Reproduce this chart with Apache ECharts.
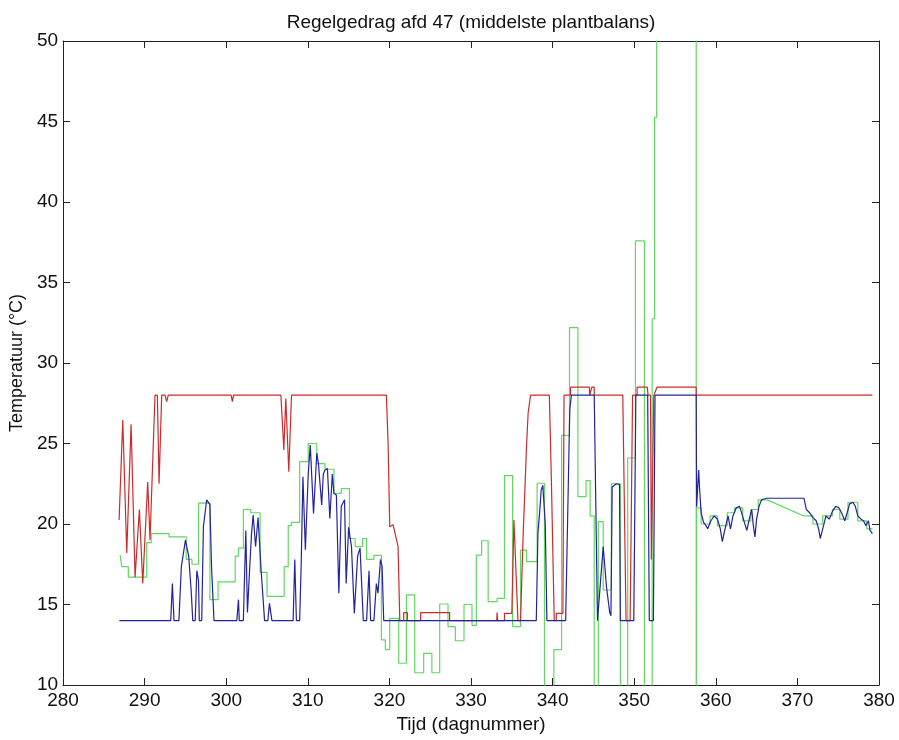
<!DOCTYPE html>
<html>
<head>
<meta charset="utf-8">
<script src="https://cdn.jsdelivr.net/npm/echarts@6/dist/echarts.min.js"></script>
<style>
  html, body { margin: 0; padding: 0; background: #fff; }
  #chart { width: 899px; height: 740px; }
</style>
</head>
<body>
<div id="chart"></div>
<script>
  // axis ticks
  var xTicks = [280, 290, 300, 310, 320, 330, 340, 350, 360, 370, 380]
  var yTicks = [10, 15, 20, 25, 30, 35, 40, 45, 50]

  // red line (dagnummer, temperatuur)
  var redLine = [
    [286.87, 20.25], [287.32, 26.46], [287.81, 18.2], [288.34, 26.2], [288.83, 16.7],
    [289.36, 20.9], [289.77, 16.3], [290.38, 22.6], [290.66, 19.0], [291.27, 28],
    [291.56, 28], [291.77, 22.5], [292.09, 28], [292.5, 28], [292.7, 27.6], [292.9, 28],
    [300.6, 28], [300.75, 27.6], [300.9, 28], [306.7, 28], [307.06, 24.6], [307.3, 27.8],
    [307.67, 23.25], [308.0, 28], [319.63, 28], [319.84, 25.0], [320.04, 19.83],
    [320.45, 19.96], [321.06, 18.6], [321.27, 14], [321.75, 14], [321.75, 14.5],
    [322.2, 14.5], [322.2, 14], [323.83, 14], [323.83, 14.5], [327.38, 14.5],
    [327.38, 14], [333.15, 14], [333.2, 14.5], [333.25, 14], [334.1, 14], [334.1, 14.45],
    [335.0, 14.45], [335.26, 20.25], [335.75, 14], [336.07, 14], [336.4, 19.5],
    [336.6, 22.1], [336.8, 24.8], [337.0, 26.9], [337.3, 28], [339.6, 28],
    [339.85, 22.7], [340.2, 14], [340.45, 14], [340.45, 14.45], [341.26, 14.45],
    [341.4, 28], [342.2, 28], [342.2, 28.5], [344.5, 28.5], [344.55, 28], [344.75, 28],
    [344.8, 28.5], [345.1, 28.5], [345.1, 28], [348.6, 28], [349.0, 14], [349.5, 14],
    [349.8, 28], [350.35, 28], [350.35, 28.5], [351.6, 28.5], [351.7, 28], [352.0, 28],
    [352.1, 17.8], [352.4, 28], [352.8, 28.5], [357.6, 28.5], [357.6, 28], [379.2, 28]
  ]

  // blue line
  var blueLine = [
    [286.9, 14], [293.2, 14], [293.4, 16.3], [293.6, 14], [294.2, 14], [294.5, 17.35],
    [295.0, 19.0], [295.4, 18.0], [295.7, 15.9], [295.9, 14], [296.2, 14], [296.4, 17.1],
    [296.6, 16.5], [296.7, 14], [297.0, 14], [297.2, 19.83], [297.6, 21.5], [298.0, 21.2],
    [298.2, 17.35], [298.5, 14], [301.3, 14], [301.5, 15.3], [301.6, 14], [302.1, 14],
    [302.4, 19.6], [302.6, 14.5], [302.9, 17.5], [303.1, 19.4], [303.3, 20.56],
    [303.6, 18.6], [303.9, 20.4], [304.3, 16.94], [304.7, 14], [305.1, 14], [305.3, 15.07],
    [305.6, 14], [308.2, 14], [308.4, 17.8], [308.6, 14], [309.0, 14], [309.2, 17.8],
    [309.4, 22.94], [309.7, 18.4], [310.05, 23.1], [310.3, 24.9], [310.7, 20.66],
    [311.1, 24.4], [311.3, 23.75], [311.7, 21.18], [311.9, 23.1], [312.1, 23.35],
    [312.4, 23.45], [312.7, 20.35], [313.0, 23.1], [313.2, 21.9], [313.5, 21.8],
    [313.8, 15.7], [314.1, 21.1], [314.5, 21.5], [314.7, 16.3], [315.0, 19.8],
    [315.35, 18.6], [315.7, 14.45], [316.1, 18.0], [316.4, 18.5], [316.8, 14], [317.2, 14],
    [317.5, 17.1], [317.7, 14], [318.1, 14], [318.4, 16.3], [318.6, 15.7], [318.9, 17.8],
    [319.1, 17.4], [319.3, 14], [338.0, 14], [338.2, 19.4], [338.4, 20.66], [338.6, 22.1],
    [338.8, 22.4], [339.0, 22.45], [339.1, 20.0], [339.3, 14], [341.6, 14], [342.1, 27.1],
    [342.3, 28], [345.1, 28], [345.5, 14], [345.7, 14], [346.2, 18.6], [346.6, 16.1],
    [347.0, 14.5], [347.15, 14.3], [347.3, 22.3], [347.8, 22.5], [348.2, 22.45],
    [348.3, 14], [349.95, 14], [350.2, 28], [351.65, 28], [351.85, 14], [352.35, 14],
    [352.55, 28], [357.6, 28], [357.65, 21.07], [357.9, 23.35], [358.0, 22.3],
    [358.2, 20.7], [358.5, 20.1], [358.8, 19.9], [359.0, 19.7], [359.4, 20.2],
    [359.8, 20.5], [360.2, 20.3], [360.55, 19.7], [360.8, 18.9], [361.0, 19.4],
    [361.5, 20.5], [361.8, 19.7], [362.1, 20.5], [362.5, 21.0], [362.9, 21.1],
    [363.1, 20.8], [363.5, 20.1], [363.8, 19.6], [364.1, 20.3], [364.4, 20.9],
    [364.6, 19.9], [364.8, 19.2], [365.0, 20.3], [365.3, 21.1], [365.6, 21.5],
    [365.9, 21.55], [366.2, 21.6], [370.8, 21.6], [370.9, 21.7], [371.1, 20.9],
    [371.5, 20.7], [371.9, 20.4], [372.3, 20.2], [372.6, 19.7], [372.8, 19.1],
    [373.1, 19.7], [373.5, 20.5], [373.9, 20.3], [374.3, 20.8], [374.7, 21.1],
    [375.1, 21.0], [375.5, 20.6], [375.8, 20.2], [376.1, 20.7], [376.4, 21.25],
    [376.8, 21.35], [377.1, 21.1], [377.4, 20.5], [377.8, 20.3], [378.1, 20.2],
    [378.4, 19.9], [378.7, 20.2], [378.9, 19.6], [379.2, 19.4]
  ]

  // green line (stepped), values outside 10..50 run off the plot
  var greenLine = [
    [287.0, 18.07], [287.2, 18.07], [287.2, 17.35], [288.0, 17.35], [288.0, 16.7],
    [290.26, 16.7], [290.26, 18.84], [290.8, 18.84], [290.8, 19.4], [293.0, 19.4],
    [293.0, 19.2], [295.1, 19.2], [295.1, 17.8], [295.8, 17.8], [295.8, 17.5],
    [296.6, 17.5], [296.6, 21.3], [298.0, 21.3], [298.0, 15.3], [299.0, 15.3],
    [299.0, 16.4], [301.1, 16.4], [301.1, 18.0], [301.5, 18.0], [301.5, 18.5],
    [302.1, 18.5], [302.1, 20.9], [303.0, 20.9], [303.0, 20.7], [304.15, 20.7],
    [304.15, 17.0], [305.0, 17.0], [305.0, 15.5], [307.1, 15.5], [307.1, 17.35],
    [307.6, 17.35], [307.6, 19.9], [308.0, 19.9], [308.0, 20.1], [309.0, 20.1],
    [309.0, 23.87], [310.05, 23.87], [310.05, 25.0], [311.1, 25.0], [311.1, 23.75],
    [312.1, 23.75], [312.1, 23.4], [313.2, 23.4], [313.2, 21.9], [314.1, 21.9],
    [314.1, 22.2], [315.1, 22.2], [315.1, 19.1], [315.8, 19.1], [315.8, 18.6],
    [316.7, 18.6], [316.7, 19.1], [317.2, 19.1], [317.2, 17.8], [318.1, 17.8],
    [318.1, 18.05], [319.02, 18.05], [319.02, 12.8], [319.5, 12.8], [319.5, 12.2],
    [320.04, 12.2], [320.04, 14.14], [321.14, 14.14], [321.14, 11.35], [322.08, 11.35],
    [322.08, 15.6], [323.1, 15.6], [323.1, 10.76], [324.2, 10.76], [324.2, 11.97],
    [325.2, 11.97], [325.2, 10.76], [326.16, 10.76], [326.16, 15.03], [327.18, 15.03],
    [327.18, 13.62], [328.08, 13.62], [328.08, 12.75], [329.14, 12.75], [329.14, 15.0],
    [330.12, 15.0], [330.12, 13.7], [330.65, 13.7], [330.65, 18.07], [331.3, 18.07],
    [331.3, 18.96], [332.1, 18.96], [332.1, 15.18], [333.2, 15.18], [333.2, 15.38],
    [334.1, 15.38], [334.1, 23.0], [335.1, 23.0], [335.1, 13.62], [336.07, 13.62],
    [336.07, 18.38], [336.8, 18.38], [336.8, 17.66], [338.1, 17.66], [338.1, 22.53],
    [339.0, 22.53], [339.0, 5], [340.15, 5], [340.15, 12.2], [341.1, 12.2],
    [341.1, 25.5], [342.07, 25.5], [342.07, 32.2], [343.1, 32.2], [343.1, 21.7],
    [344.1, 21.7], [344.1, 22.7], [344.6, 22.7], [344.6, 20.5], [345.1, 20.5],
    [345.1, 5], [345.6, 5], [345.6, 20.15], [346.2, 20.15], [346.2, 15.9],
    [347.2, 15.9], [347.2, 22.5], [348.3, 22.5], [348.3, 5], [349.2, 5],
    [349.2, 24.1], [350.15, 24.1], [350.15, 37.58], [351.25, 37.58], [351.25, 5],
    [352.2, 5], [352.2, 32.75], [352.5, 32.75], [352.5, 45.26], [352.75, 45.26],
    [352.75, 60], [357.6, 60], [357.6, 5], [357.65, 5], [357.65, 21.0],
    [358.2, 21.0], [358.2, 20.0], [359.3, 20.0], [359.3, 20.5], [360.2, 20.5],
    [360.2, 19.9], [361.4, 19.9], [361.4, 20.7], [362.3, 20.7], [362.3, 21.0],
    [363.3, 21.0], [363.3, 20.2], [364.3, 20.2], [364.3, 20.9], [365.2, 20.9],
    [365.2, 21.5], [366.3, 21.5], [370.8, 20.5], [371.9, 20.5], [371.9, 20.0],
    [373.1, 20.0], [373.1, 20.5], [374.3, 20.5], [374.3, 20.9], [375.2, 20.9],
    [375.2, 20.3], [376.2, 20.3], [376.2, 21.35], [377.4, 21.35], [377.4, 20.2],
    [378.5, 20.2], [378.5, 19.7], [379.2, 19.7]
  ]

  var fontFam = '"Liberation Sans", Arial, sans-serif'
  var axisCol = '#222'

  function boxAxis(extra) {
    var a = {
      type: 'value',
      axisLine: { show: true, lineStyle: { color: axisCol, width: 1 } },
      axisTick: { show: true, inside: true, length: 7, lineStyle: { color: axisCol } },
      splitLine: { show: false },
      axisLabel: { show: false }
    }
    return Object.assign(a, extra)
  }

  var mychar = echarts.init(document.getElementById('chart'))
  var option = {
    animation: false,
    backgroundColor: '#fff',
    title: {
      text: 'Regelgedrag afd 47 (middelste plantbalans)',
      left: 466,
      top: 8,
      textAlign: 'center',
      textStyle: { fontFamily: fontFam, fontSize: 19, fontWeight: 'normal', color: '#111' }
    },
    grid: { left: 61, right: 20, top: 41, bottom: 55 },
    xAxis: [
      boxAxis({
        min: xTicks[0], max: xTicks[xTicks.length - 1], interval: 10,
        name: 'Tijd (dagnummer)', nameLocation: 'middle', nameGap: 23,
        nameTextStyle: { fontFamily: fontFam, fontSize: 19, color: '#111' },
        axisLabel: { show: true, margin: 6, fontFamily: fontFam, fontSize: 19, color: '#111' }
      }),
      boxAxis({ position: 'top', min: 280, max: 380, interval: 10 })
    ],
    yAxis: [
      boxAxis({
        min: yTicks[0], max: yTicks[yTicks.length - 1], interval: 5,
        name: 'Temperatuur (°C)', nameLocation: 'middle', nameGap: 31,
        nameTextStyle: { fontFamily: fontFam, fontSize: 18, color: '#111' },
        axisLabel: { show: true, margin: 5, fontFamily: fontFam, fontSize: 19, color: '#111' }
      }),
      boxAxis({ position: 'right', min: 10, max: 50, interval: 5 })
    ],
    series: [
      {
        name: 'groen', type: 'line', data: greenLine, showSymbol: false, clip: true,
        lineStyle: { color: '#62d862', width: 1.2 }
      },
      {
        name: 'rood', type: 'line', data: redLine, showSymbol: false, clip: true,
        lineStyle: { color: '#cc2b2b', width: 1.2 }
      },
      {
        name: 'blauw', type: 'line', data: blueLine, showSymbol: false, clip: true,
        lineStyle: { color: '#23239c', width: 1.2 }
      }
    ]
  }
  mychar.setOption(option)
</script>
</body>
</html>
